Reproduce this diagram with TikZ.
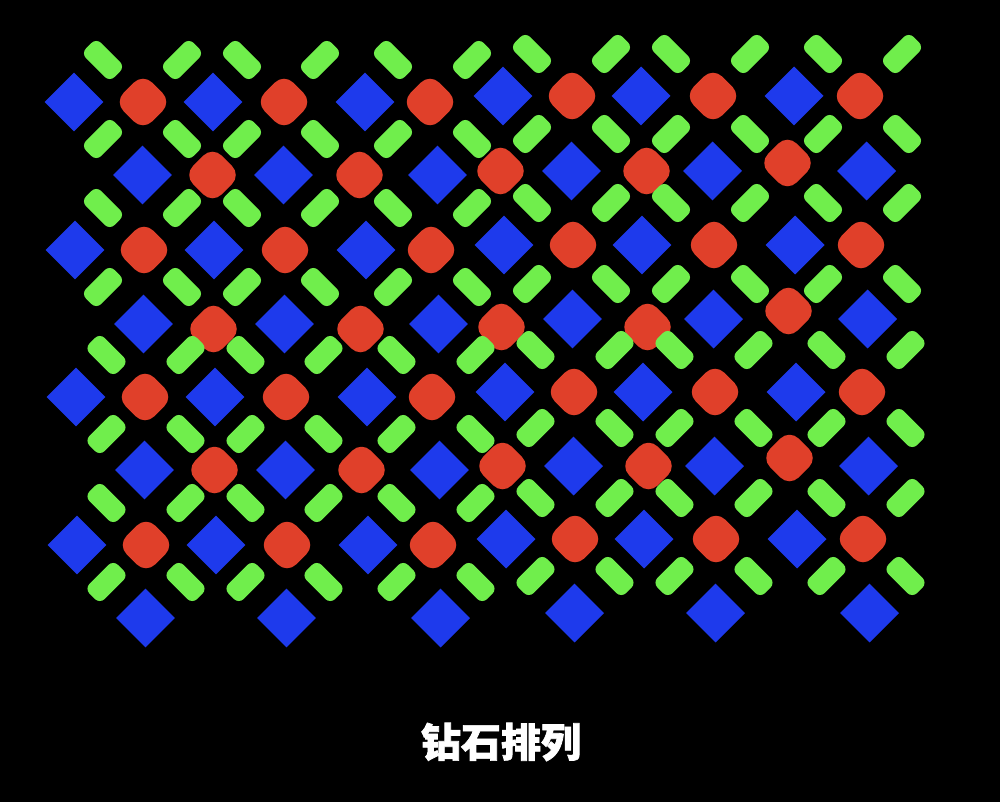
\documentclass[tikz,border=0pt]{standalone}
\usepackage{fontspec}
\newfontfamily\cjk{Noto Sans CJK SC}[BoldFeatures={FakeBold=1.8}]
\definecolor{pblue}{RGB}{30,58,236}
\definecolor{pred}{RGB}{224,64,42}
\definecolor{pgreen}{RGB}{112,238,76}
\tikzset{
  bpix/.style={fill=pblue, rectangle, inner sep=0pt, outer sep=0pt, minimum width=41.7pt, minimum height=41.7pt, rotate=45},
  rpix/.style={fill=pred, rectangle, inner sep=0pt, outer sep=0pt, minimum width=40.5pt, minimum height=40.5pt, rounded corners=13pt, rotate=45},
  gpix/.style={fill=pgreen, rectangle, inner sep=0pt, outer sep=0pt, minimum width=40.5pt, minimum height=21.5pt, rounded corners=7pt},
  titletext/.style={text=white, inner sep=0pt, font=\cjk\bfseries\fontsize{40}{40}\selectfont}
}
\def\xe{{74,143,213,284,365,430,503,572,641,713,794,860}}
\def\xo{{0,142,212,283,359,437,500,571,646,712,787,866}}
\def\yl{{102,175,250,324,397,470,545,618}}
\def\yr{{96,171,245,319,392,466,539,613}}
\def\gx{{103,182,242,320,393,472,532,611,671,750,823,902}}
\def\gyl{{60,139,208,287,355,434,503,582}}
\def\gyr{{54,134,203,284,350,428,498,576}}
\begin{document}
\begin{tikzpicture}[x=1pt,y=-1pt]
\fill[black] (0,0) rectangle (1000,802);
\useasboundingbox (0,0) rectangle (1000,802);
% blue and red sub-pixels
\foreach \r in {0,...,7}{
  \foreach \c in {0,...,11}{
    \pgfmathtruncatemacro\pp{mod(\r+\c,2)}
    \pgfmathtruncatemacro\ro{mod(\r,2)}
    \pgfmathtruncatemacro\skp{(\c==0)*(\ro==1) + (\r==7)*\pp}
    \pgfmathsetmacro\xA{\xe[\c]}
    \pgfmathsetmacro\xB{\xo[\c]}
    \pgfmathsetmacro\xx{(1-\ro)*\xA + \ro*\xB + 0.5*\r}
    \pgfmathsetmacro\yA{\yl[\r]}
    \pgfmathsetmacro\yB{\yr[\r]}
    \pgfmathsetmacro\yy{(\c<6)*\yA + (\c>5)*\yB}
    \pgfmathsetmacro\dy{\pp*((\r==3)*(\c<10)*(\c<6)*5 + (\r==3)*(\c<10)*(\c>5)*8 - (\c==10)*8)}
    \pgfmathsetmacro\yy{\yy+\dy}
    \ifnum\skp=0
      \ifnum\pp=0
        \node[bpix] (b-\r-\c) at (\xx,\yy) {};
      \else
        \node[rpix] (r-\r-\c) at (\xx,\yy) {};
      \fi
    \fi
  }
}
% green sub-pixels
\foreach \gr in {0,...,7}{
  \foreach \gc in {0,...,11}{
    \pgfmathtruncatemacro\go{mod(\gr+\gc,2)}
    \pgfmathsetmacro\xA{\gx[\gc]}
    \pgfmathsetmacro\xx{\xA + (\gr>3)*3.5}
    \pgfmathsetmacro\yA{\gyl[\gr]}
    \pgfmathsetmacro\yB{\gyr[\gr]}
    \pgfmathsetmacro\yy{(\gc<6)*\yA + (\gc>5)*\yB}
    \ifnum\go=0
      \node[gpix, rotate=-45] (g-\gr-\gc) at (\xx,\yy) {};
    \else
      \node[gpix, rotate=45] (g-\gr-\gc) at (\xx,\yy) {};
    \fi
  }
}
\node[titletext] (title) at (501,742) {钻石排列};
\end{tikzpicture}
\end{document}
